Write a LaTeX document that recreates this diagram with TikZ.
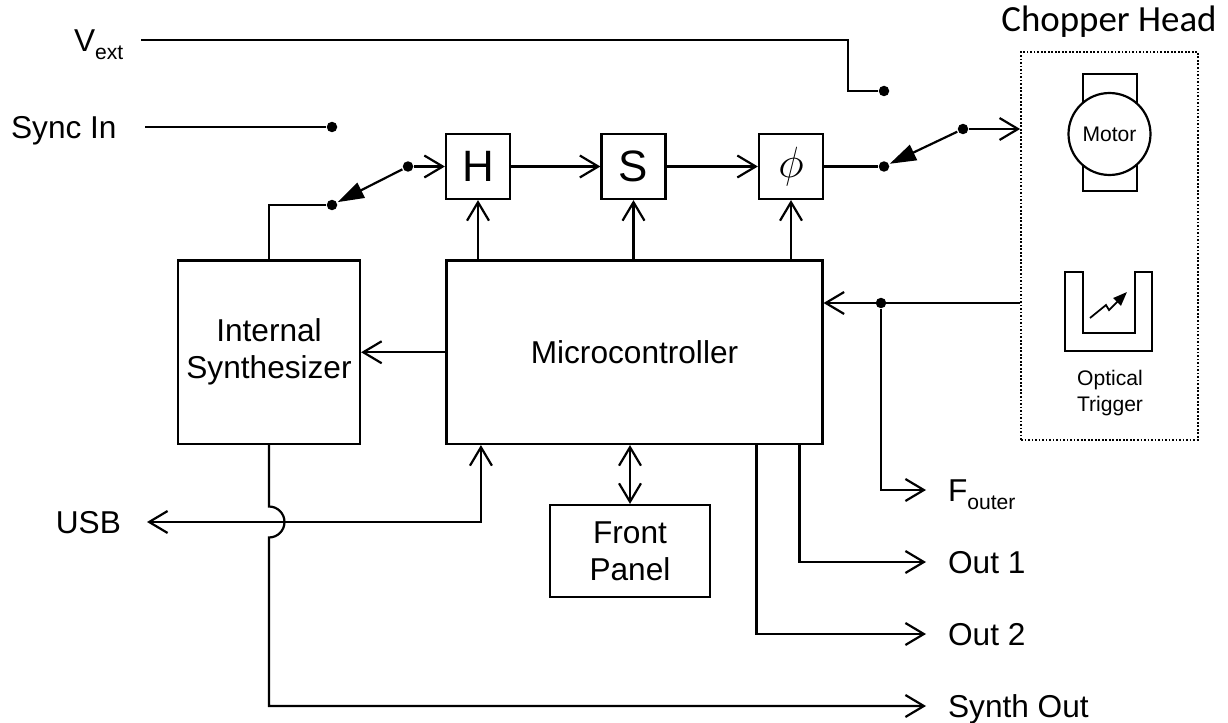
\documentclass[tikz,border=0pt]{standalone}
\usepackage{fontspec}
\setmainfont{Liberation Sans}
\newfontfamily\calib{Carlito}
\usetikzlibrary{arrows.meta,calc}
\begin{document}
\begin{tikzpicture}[x=0.02cm,y=-0.02cm,line width=1.25pt,
  blk/.style={draw, inner sep=0pt, align=center, font=\fontsize{18}{21}\selectfont},
  sbox/.style={draw, minimum width=1.28cm, minimum height=1.3cm, inner sep=0pt, font=\fontsize{25}{25}\selectfont},
  dot/.style={circle, fill, inner sep=0pt, minimum size=0.21cm},
  arr/.style={-{Straight Barb[length=10.5pt,width=12.5pt]}},
  darr/.style={{Straight Barb[length=10.5pt,width=12.5pt]}-{Straight Barb[length=10.5pt,width=12.5pt]}},
  sw/.style={-{Triangle[length=15pt,width=9.5pt]}},
  lbl/.style={anchor=base west, inner sep=0pt, font=\fontsize{18}{21}\selectfont}]
\useasboundingbox (0,0) rectangle (1228,723);

% labels on the left
\node[lbl] (vext) at (73,52) {V\raisebox{-4.5pt}{\fontsize{12}{12}\selectfont ext}};
\node[lbl] (sync) at (10,138.5) {Sync In};
\node[lbl, anchor=base east] (usb) at (122,533.5) {USB};

% blocks
\node[sbox] (H) at (478,166.5) {H};
\node[sbox] (S) at (633.5,166.5) {S};
\node[sbox] (P) at (791,166.5) {$\phi$};
\node[blk, minimum width=7.52cm, minimum height=3.67cm] (micro) at (634.5,352.25) {Microcontroller};
\node[blk, minimum width=3.64cm, minimum height=3.67cm] (synth) at (269,352.25) {Internal\\Synthesizer};
\node[blk, minimum width=3.2cm, minimum height=1.84cm] (fp) at (630,551) {Front\\Panel};

% chopper head
\node[draw, densely dotted, line width=1pt, minimum width=3.54cm, minimum height=7.76cm, inner sep=0pt] (chop) at (1109.5,246) {};
\node[anchor=base, inner sep=0pt, font=\calib\fontsize{21}{21}\selectfont] (chl) at (1109,32) {Chopper Head};
\node[draw, minimum width=1.08cm, minimum height=2.34cm, inner sep=0pt] (mrect) at (1110,132.5) {};
\node[draw, circle, fill=white, minimum size=1.64cm, inner sep=0pt, font=\fontsize{12}{12}\selectfont] (motor) at (1109.5,134) {Motor};
\draw (1065,272) -- (1065,351) -- (1152,351) -- (1152,272) -- (1135,272) -- (1135,333) -- (1083,333) -- (1083,272) -- cycle;
\draw[-{Triangle[length=8pt,width=6pt]}, line width=1pt] (1090,318) -- (1106,305) -- (1109,310) -- (1127,292);
\node[align=center, font=\fontsize{12}{15}\selectfont] (opt) at (1110,393) {Optical\\Trigger};

% dots
\node[dot] (d6) at (332,127) {};
\node[dot] (d1) at (332,205) {};
\node[dot] (d2) at (408,166.5) {};
\node[dot] (d3) at (884,166.5) {};
\node[dot] (d4) at (963,129) {};
\node[dot] (d5) at (884,91) {};
\node[dot] (dj) at (881,303) {};

% free ends
\coordinate (vs) at (141,40);
\coordinate (ss) at (145,127);
\coordinate (usbe) at (147,522);
\coordinate (fo) at (926,490);
\coordinate (o1e) at (926,562);
\coordinate (o2e) at (926,634);
\coordinate (soe) at (926,706);

% output labels
\node[lbl] (lfo) at (947,501.5) {F\raisebox{-4.5pt}{\fontsize{12}{12}\selectfont outer}};
\node[lbl] (lo1) at (947,573.5) {Out 1};
\node[lbl] (lo2) at (947,645.5) {Out 2};
\node[lbl] (lso) at (947,717.5) {Synth Out};

% connectors
\draw (vs) -- (848,40) |- (d5);
\draw (ss) -- (d6);
\draw[sw] (d2) -- (d1);
\draw (d1) -| (synth.north);
\draw[arr] (d2) -- (H);
\draw[arr] (H) -- (S);
\draw[arr] (S) -- (P);
\draw (P) -- (d3);
\draw[sw] (d4) -- (d3);
\draw[arr] (d4) -- (chop.west |- d4);
\draw[arr] (H.south |- micro.north) -- (H.south);
\draw[arr] (S.south |- micro.north) -- (S.south);
\draw[arr] (P.south |- micro.north) -- (P.south);
\draw[arr] (micro.west) -- (synth.east);
\draw[arr] (chop.west |- dj) -- (micro.east |- dj);
\draw[arr] (dj) |- (fo);
\draw[arr] ($(micro.south east)+(-24,0)$) |- (o1e);
\draw[arr] ($(micro.south east)+(-67,0)$) |- (o2e);
\draw[darr] (micro.south -| fp.north) -- (fp.north);
\draw[darr] (usbe) -| ($(micro.south west)+(35.5,0)$);
\draw[arr] (synth.south) -- (269,506.5) arc[start angle=90,end angle=-90,radius=0.31cm] -- (269,706) -- (soe);
\end{tikzpicture}
\end{document}
